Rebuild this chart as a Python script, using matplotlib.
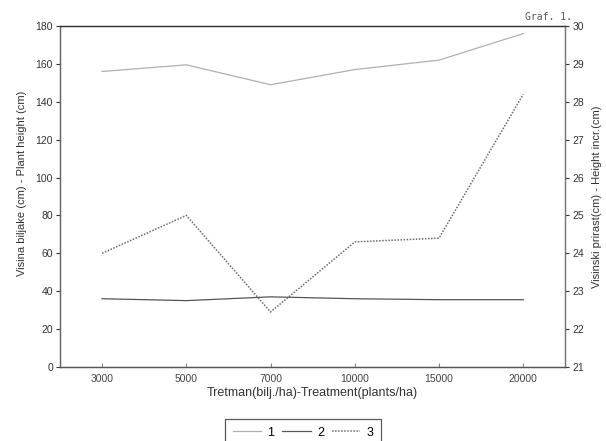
import matplotlib
matplotlib.use("Agg")
import matplotlib.pyplot as plt
from matplotlib.lines import Line2D

treatments = ["3000", "5000", "7000", "10000", "15000", "20000"]
series1 = [156, 159.5, 149, 157, 162, 176]        # plant height, left axis
series2 = [36, 35, 37, 36, 35.5, 35.5]            # left axis
series3 = [24.0, 25.0, 22.45, 24.3, 24.4, 28.2]   # height increment, right axis
legend_labels = ["1", "2", "3"]

plt.rcParams["font.family"] = ["Liberation Sans", "DejaVu Sans"]

fig = plt.figure(figsize=(6.06, 4.41), dpi=100)
ax = fig.add_axes([0.099, 0.168, 0.834, 0.773])
ax2 = ax.twinx()

x = list(range(len(treatments)))
c1, c2, c3 = "#b0b0b0", "#555555", "#6a6a6a"
ax.plot(x, series1, color=c1, lw=0.9)
ax.plot(x, series2, color=c2, lw=0.9)
ax2.plot(x, series3, color=c3, lw=1.1, ls=(0, (1, 1)))

ax.set_xlim(-0.5, 5.5)
ax.set_ylim(0, 180)
ax.set_yticks(range(0, 181, 20))
ax2.set_ylim(21, 30)
ax2.set_yticks(range(21, 31))
ax.set_xticks(x)
ax.set_xticklabels(treatments, fontsize=7.5, color="#444444")

ax.tick_params(axis="y", direction="out", length=3, labelsize=7.5, colors="#333333", pad=2)
ax2.tick_params(axis="y", direction="out", length=3, labelsize=7.5, colors="#333333", pad=2)
ax.tick_params(axis="x", direction="in", length=3, pad=5, color="#888888")

for a in (ax, ax2):
    for s in a.spines.values():
        s.set_linewidth(0.9)
    a.spines["top"].set_color("#333333")
    a.spines["bottom"].set_color("#555555")
    a.spines["left"].set_color("#666666")
    a.spines["right"].set_color("#777777")

ax.set_xlabel("Tretman(bilj./ha)-Treatment(plants/ha)", fontsize=9, color="#333333", labelpad=2)
ax.set_ylabel("Visina biljake (cm) - Plant height (cm)", fontsize=8, color="#333333")
ax.yaxis.set_label_coords(-0.065, 0.54)
ax2.set_ylabel("Visinski prirast(cm) - Height incr.(cm)", fontsize=8, color="#333333", labelpad=6)

fig.text(0.905, 0.955, "Graf. 1.", fontsize=7, family="DejaVu Sans Mono", color="#555555", ha="center")

handles = [Line2D([], [], color=c1, lw=0.9),
           Line2D([], [], color=c2, lw=0.9),
           Line2D([], [], color=c3, lw=1.1, ls=(0, (1, 1)))]
leg = fig.legend(handles, legend_labels, loc="upper center", bbox_to_anchor=(0.5, 0.064),
                 ncol=3, fontsize=9, handlelength=2.3, handletextpad=0.5, columnspacing=0.6,
                 frameon=True, fancybox=False, borderpad=0.6)
leg.get_frame().set_edgecolor("#333333")
leg.get_frame().set_linewidth(0.9)

fig.savefig("out.png", dpi=100)
